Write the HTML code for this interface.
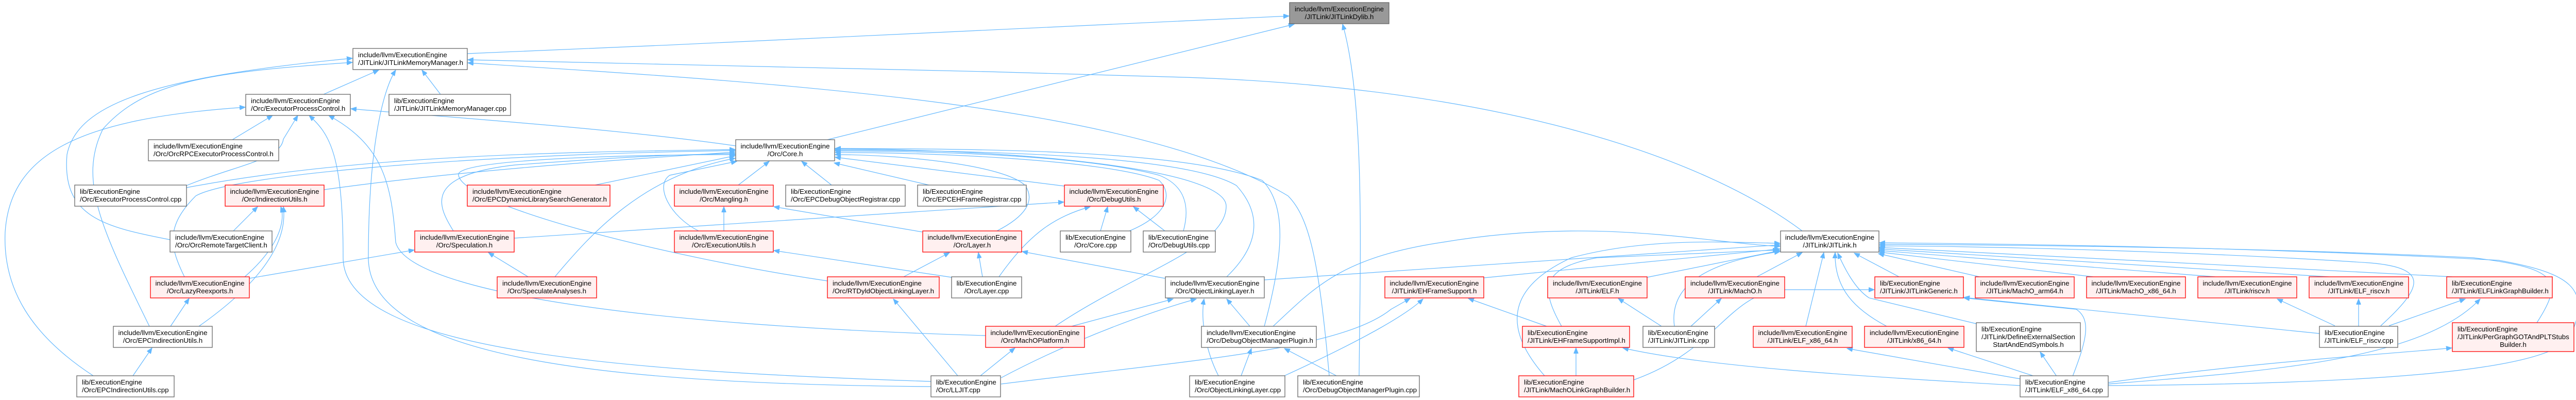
<!DOCTYPE html>
<html><head><meta charset="utf-8"><style>
html,body{margin:0;padding:0;background:#fff;}
svg{display:block;}
text{font-family:"Liberation Sans",Arial,sans-serif;font-size:13.3px;fill:#000;}
.n{fill:#fff;stroke:#666;stroke-width:1.3;}
.r{fill:#fff0f0;stroke:#f00;stroke-width:1.3;}
.g{fill:#999;stroke:#666;stroke-width:1.3;}
.e{fill:none;stroke:#63b8ff;stroke-width:1.2;marker-end:url(#a);}
.c{text-anchor:middle;}
</style></head><body>
<svg width="5040" height="776" viewBox="0 0 5040 776" xmlns="http://www.w3.org/2000/svg">
<defs><marker id="a" markerUnits="userSpaceOnUse" markerWidth="12" markerHeight="9" refX="11" refY="4.5" orient="auto"><path d="M0,0 L11,4.5 L0,9 z" fill="#63b8ff" stroke="#63b8ff"/></marker></defs>
<g>
<path class="e" d="M907,104 C1500,80 2200,45 2502,31"/>
<path class="e" d="M1606,271 L2512,47"/>
<path class="e" d="M2638,729 C2640,500 2650,200 2606,47"/>
<path class="e" d="M628,183 L735,136"/>
<path class="e" d="M855,183 L819,136"/>
<path class="e" d="M3498,448 C3300,300 2900,170 2300,150 C1800,135 1200,120 908,116"/>
<path class="e" d="M2580,729 C2560,500 2540,420 2500,380 C2200,200 1500,160 908,122"/>
<path class="e" d="M330,465 C200,440 120,420 130,300 C150,200 300,150 684,113"/>
<path class="e" d="M290,633 C200,450 150,350 200,250 C280,160 400,140 684,121"/>
<path class="e" d="M1807,750 C1200,745 715,700 715,500 C715,300 740,180 768,136"/>
<path class="e" d="M1807,740 C1200,720 666,680 666,500 C666,300 640,260 600,224"/>
<path class="e" d="M1913,651 C1200,630 790,560 768,470 C760,350 740,280 638,224"/>
<path class="e" d="M181,729 C60,650 5,560 10,450 C20,300 150,230 476,208"/>
<path class="e" d="M362,360 C460,320 545,310 550,270 L578,224"/>
<path class="e" d="M451,271 L529,224"/>
<path class="e" d="M1428,283 C1200,250 900,230 681,211"/>
<path class="e" d="M362,364 C700,300 1100,295 1427,290"/>
<path class="e" d="M629,368 C900,330 1200,310 1427,295"/>
<path class="e" d="M1155,359 L1427,302"/>
<path class="e" d="M880,448 C850,400 820,340 1000,320 C1200,305 1300,300 1427,298"/>
<path class="e" d="M1606,545 C1300,500 900,400 890,340 C880,310 1200,300 1427,300"/>
<path class="e" d="M1077,537 C1150,450 1250,340 1427,307"/>
<path class="e" d="M358,537 C330,480 320,440 380,380 C450,340 900,300 1427,292"/>
<path class="e" d="M1356,448 C1300,420 1270,360 1300,340 L1430,313"/>
<path class="e" d="M1433,359 L1493,313"/>
<path class="e" d="M1614,359 L1556,313"/>
<path class="e" d="M1803,359 L1619,316"/>
<path class="e" d="M2066,361 L1621,305"/>
<path class="e" d="M1935,448 C1990,420 2010,390 1990,360 C1950,320 1750,300 1621,300"/>
<path class="e" d="M2192,448 C2260,420 2280,380 2250,350 C2150,310 1800,295 1621,296"/>
<path class="e" d="M2297,448 C2310,400 2300,360 2250,340 C2100,300 1800,293 1621,293"/>
<path class="e" d="M2381,537 C2440,480 2454,420 2400,360 C2300,300 1900,292 1621,291"/>
<path class="e" d="M2048,633 C2200,530 2380,480 2380,400 C2380,330 2000,290 1621,289"/>
<path class="e" d="M2454,633 C2490,500 2500,400 2450,350 C2300,290 1900,289 1621,288"/>
<path class="e" d="M1405,448 L1405,401"/>
<path class="e" d="M1790,450 L1502,401"/>
<path class="e" d="M1847,538 L1502,486"/>
<path class="e" d="M1907,537 L1899,490"/>
<path class="e" d="M1939,537 C2000,450 2050,420 2116,401"/>
<path class="e" d="M1754,537 L1843,490"/>
<path class="e" d="M2261,540 L1984,488"/>
<path class="e" d="M998,462 L2065,392"/>
<path class="e" d="M2136,448 L2150,401"/>
<path class="e" d="M2261,448 L2200,401"/>
<path class="e" d="M475,537 C540,480 555,430 545,401"/>
<path class="e" d="M386,633 C490,560 560,480 550,401"/>
<path class="e" d="M453,448 L500,401"/>
<path class="e" d="M331,633 L367,579"/>
<path class="e" d="M258,729 L295,675"/>
<path class="e" d="M484,540 L804,485"/>
<path class="e" d="M1025,537 L948,490"/>
<path class="e" d="M2080,633 L2277,580"/>
<path class="e" d="M1859,729 L1734,580"/>
<path class="e" d="M1903,729 L1970,675"/>
<path class="e" d="M1943,733 C2100,650 2250,600 2322,580"/>
<path class="e" d="M1943,745 C2300,700 2600,680 2700,600 L2737,579"/>
<path class="e" d="M2426,633 L2381,580"/>
<path class="e" d="M2365,729 C2340,680 2330,620 2337,580"/>
<path class="e" d="M2409,729 L2429,676"/>
<path class="e" d="M2493,729 C2600,680 2720,620 2762,580"/>
<path class="e" d="M2594,729 L2493,676"/>
<path class="e" d="M2454,543 L3455,475"/>
<path class="e" d="M2471,633 C2550,560 2600,500 2800,470 C3100,420 3300,470 3455,478"/>
<path class="e" d="M2880,539 L3455,483"/>
<path class="e" d="M3197,538 L3455,486"/>
<path class="e" d="M3410,537 L3498,490"/>
<path class="e" d="M3031,633 C2990,560 2990,520 3100,500 L3452,485"/>
<path class="e" d="M3002,633 L2850,579"/>
<path class="e" d="M3250,633 C3240,560 3300,510 3455,488"/>
<path class="e" d="M3225,633 L3141,579"/>
<path class="e" d="M3282,633 L3341,579"/>
<path class="e" d="M2998,729 C2920,640 2920,560 3050,500 C3200,460 3350,470 3455,472"/>
<path class="e" d="M3059,729 L3059,675"/>
<path class="e" d="M3171,737 C3330,680 3350,580 3450,562 L3638,562"/>
<path class="e" d="M3505,633 L3540,490"/>
<path class="e" d="M3662,633 C3600,600 3560,560 3562,490"/>
<path class="e" d="M3686,537 L3599,491"/>
<path class="e" d="M3836,628 L3628,578 C3600,560 3580,520 3567,491"/>
<path class="e" d="M3842,537 L3646,492"/>
<path class="e" d="M4063,537 L3647,489"/>
<path class="e" d="M4300,537 L3647,486"/>
<path class="e" d="M4520,537 L3647,483"/>
<path class="e" d="M4760,537 L3647,480"/>
<path class="e" d="M4621,632 C4700,560 4720,520 4600,510 C4300,490 3900,478 3648,477"/>
<path class="e" d="M4924,626 C4980,540 4960,520 4800,500 C4400,480 3900,475 3648,474"/>
<path class="e" d="M4092,748 C4600,745 4960,720 4990,650 C5030,560 4990,530 4850,505 C4400,480 3900,473 3648,471"/>
<path class="e" d="M4532,632 L4420,580"/>
<path class="e" d="M4578,633 L4578,580"/>
<path class="e" d="M4637,632 L4785,580"/>
<path class="e" d="M4502,647 L3812,577"/>
<path class="e" d="M4023,730 C4050,660 4060,620 4030,600 L3812,578"/>
<path class="e" d="M3992,730 L3960,683"/>
<path class="e" d="M3946,729 L3781,675"/>
<path class="e" d="M3921,735 L3585,676"/>
<path class="e" d="M3921,748 C3600,730 3300,710 3150,675"/>
<path class="e" d="M4092,742 C4400,700 4600,690 4759,675"/>
<path class="e" d="M4092,745 C4400,720 4700,700 4814,580"/>
</g>
<g>
<rect class="g" x="2503" y="5" width="193" height="41"/><text class="c" x="2599.5" y="22">include/llvm/ExecutionEngine</text><text class="c" x="2599.5" y="37">/JITLink/JITLinkDylib.h</text>
<rect class="n" x="685" y="94" width="222" height="41"/><text x="695" y="111">include/llvm/ExecutionEngine</text><text x="695" y="126">/JITLink/JITLinkMemoryManager.h</text>
<rect class="n" x="477" y="183" width="203" height="41"/><text x="487" y="200">include/llvm/ExecutionEngine</text><text x="487" y="215">/Orc/ExecutorProcessControl.h</text>
<rect class="n" x="755" y="183" width="236" height="41"/><text x="765" y="200">lib/ExecutionEngine</text><text x="765" y="215">/JITLink/JITLinkMemoryManager.cpp</text>
<rect class="n" x="288" y="271" width="253" height="41"/><text x="298" y="288">include/llvm/ExecutionEngine</text><text x="298" y="303">/Orc/OrcRPCExecutorProcessControl.h</text>
<rect class="n" x="1428" y="271" width="192" height="41"/><text class="c" x="1524" y="288">include/llvm/ExecutionEngine</text><text class="c" x="1524" y="303">/Orc/Core.h</text>
<rect class="n" x="145" y="359" width="217" height="41"/><text x="155" y="376">lib/ExecutionEngine</text><text x="155" y="391">/Orc/ExecutorProcessControl.cpp</text>
<rect class="r" x="437" y="359" width="192" height="41"/><text class="c" x="533" y="376">include/llvm/ExecutionEngine</text><text class="c" x="533" y="391">/Orc/IndirectionUtils.h</text>
<rect class="r" x="907" y="359" width="277" height="41"/><text x="917" y="376">include/llvm/ExecutionEngine</text><text x="917" y="391">/Orc/EPCDynamicLibrarySearchGenerator.h</text>
<rect class="r" x="1309" y="359" width="192" height="41"/><text class="c" x="1405" y="376">include/llvm/ExecutionEngine</text><text class="c" x="1405" y="391">/Orc/Mangling.h</text>
<rect class="n" x="1525" y="359" width="232" height="41"/><text x="1535" y="376">lib/ExecutionEngine</text><text x="1535" y="391">/Orc/EPCDebugObjectRegistrar.cpp</text>
<rect class="n" x="1781" y="359" width="211" height="41"/><text x="1791" y="376">lib/ExecutionEngine</text><text x="1791" y="391">/Orc/EPCEHFrameRegistrar.cpp</text>
<rect class="r" x="2066" y="359" width="192" height="41"/><text class="c" x="2162" y="376">include/llvm/ExecutionEngine</text><text class="c" x="2162" y="391">/Orc/DebugUtils.h</text>
<rect class="n" x="330" y="448" width="198" height="41"/><text x="340" y="465">include/llvm/ExecutionEngine</text><text x="340" y="480">/Orc/OrcRemoteTargetClient.h</text>
<rect class="r" x="805" y="448" width="193" height="41"/><text class="c" x="901.5" y="465">include/llvm/ExecutionEngine</text><text class="c" x="901.5" y="480">/Orc/Speculation.h</text>
<rect class="r" x="1309" y="448" width="192" height="41"/><text class="c" x="1405" y="465">include/llvm/ExecutionEngine</text><text class="c" x="1405" y="480">/Orc/ExecutionUtils.h</text>
<rect class="r" x="1791" y="448" width="192" height="41"/><text class="c" x="1887" y="465">include/llvm/ExecutionEngine</text><text class="c" x="1887" y="480">/Orc/Layer.h</text>
<rect class="n" x="2058" y="448" width="137" height="41"/><text class="c" x="2126.5" y="465">lib/ExecutionEngine</text><text class="c" x="2126.5" y="480">/Orc/Core.cpp</text>
<rect class="n" x="2219" y="448" width="140" height="41"/><text x="2229" y="465">lib/ExecutionEngine</text><text x="2229" y="480">/Orc/DebugUtils.cpp</text>
<rect class="n" x="3456" y="448" width="191" height="41"/><text class="c" x="3551.5" y="465">include/llvm/ExecutionEngine</text><text class="c" x="3551.5" y="480">/JITLink/JITLink.h</text>
<rect class="r" x="292" y="537" width="192" height="41"/><text class="c" x="388" y="554">include/llvm/ExecutionEngine</text><text class="c" x="388" y="569">/Orc/LazyReexports.h</text>
<rect class="r" x="965" y="537" width="193" height="41"/><text class="c" x="1061.5" y="554">include/llvm/ExecutionEngine</text><text class="c" x="1061.5" y="569">/Orc/SpeculateAnalyses.h</text>
<rect class="r" x="1606" y="537" width="217" height="41"/><text x="1616" y="554">include/llvm/ExecutionEngine</text><text x="1616" y="569">/Orc/RTDyldObjectLinkingLayer.h</text>
<rect class="n" x="1847" y="537" width="136" height="41"/><text class="c" x="1915" y="554">lib/ExecutionEngine</text><text class="c" x="1915" y="569">/Orc/Layer.cpp</text>
<rect class="n" x="2262" y="537" width="192" height="41"/><text class="c" x="2358" y="554">include/llvm/ExecutionEngine</text><text class="c" x="2358" y="569">/Orc/ObjectLinkingLayer.h</text>
<rect class="r" x="2688" y="537" width="192" height="41"/><text class="c" x="2784" y="554">include/llvm/ExecutionEngine</text><text class="c" x="2784" y="569">/JITLink/EHFrameSupport.h</text>
<rect class="r" x="3004" y="537" width="193" height="41"/><text class="c" x="3100.5" y="554">include/llvm/ExecutionEngine</text><text class="c" x="3100.5" y="569">/JITLink/ELF.h</text>
<rect class="r" x="3271" y="537" width="193" height="41"/><text class="c" x="3367.5" y="554">include/llvm/ExecutionEngine</text><text class="c" x="3367.5" y="569">/JITLink/MachO.h</text>
<rect class="r" x="3639" y="537" width="172" height="41"/><text x="3649" y="554">lib/ExecutionEngine</text><text x="3649" y="569">/JITLink/JITLinkGeneric.h</text>
<rect class="r" x="3834" y="537" width="192" height="41"/><text class="c" x="3930" y="554">include/llvm/ExecutionEngine</text><text class="c" x="3930" y="569">/JITLink/MachO_arm64.h</text>
<rect class="r" x="4050" y="537" width="192" height="41"/><text class="c" x="4146" y="554">include/llvm/ExecutionEngine</text><text class="c" x="4146" y="569">/JITLink/MachO_x86_64.h</text>
<rect class="r" x="4266" y="537" width="192" height="41"/><text class="c" x="4362" y="554">include/llvm/ExecutionEngine</text><text class="c" x="4362" y="569">/JITLink/riscv.h</text>
<rect class="r" x="4482" y="537" width="193" height="41"/><text class="c" x="4578.5" y="554">include/llvm/ExecutionEngine</text><text class="c" x="4578.5" y="569">/JITLink/ELF_riscv.h</text>
<rect class="r" x="4749" y="537" width="205" height="41"/><text x="4759" y="554">lib/ExecutionEngine</text><text x="4759" y="569">/JITLink/ELFLinkGraphBuilder.h</text>
<rect class="n" x="220" y="633" width="192" height="41"/><text class="c" x="316" y="650">include/llvm/ExecutionEngine</text><text class="c" x="316" y="665">/Orc/EPCIndirectionUtils.h</text>
<rect class="r" x="1913" y="633" width="192" height="41"/><text class="c" x="2009" y="650">include/llvm/ExecutionEngine</text><text class="c" x="2009" y="665">/Orc/MachOPlatform.h</text>
<rect class="n" x="2332" y="633" width="223" height="41"/><text x="2342" y="650">include/llvm/ExecutionEngine</text><text x="2342" y="665">/Orc/DebugObjectManagerPlugin.h</text>
<rect class="r" x="2955" y="633" width="208" height="41"/><text x="2965" y="650">lib/ExecutionEngine</text><text x="2965" y="665">/JITLink/EHFrameSupportImpl.h</text>
<rect class="n" x="3189" y="633" width="139" height="41"/><text x="3199" y="650">lib/ExecutionEngine</text><text x="3199" y="665">/JITLink/JITLink.cpp</text>
<rect class="r" x="3403" y="633" width="192" height="41"/><text class="c" x="3499" y="650">include/llvm/ExecutionEngine</text><text class="c" x="3499" y="665">/JITLink/ELF_x86_64.h</text>
<rect class="r" x="3619" y="633" width="193" height="41"/><text class="c" x="3715.5" y="650">include/llvm/ExecutionEngine</text><text class="c" x="3715.5" y="665">/JITLink/x86_64.h</text>
<rect class="n" x="3836" y="626" width="202" height="56"/><text x="3846" y="643">lib/ExecutionEngine</text><text x="3846" y="658">/JITLink/DefineExternalSection</text><text class="c" x="3937" y="673">StartAndEndSymbols.h</text>
<rect class="n" x="4502" y="633" width="152" height="41"/><text x="4512" y="650">lib/ExecutionEngine</text><text x="4512" y="665">/JITLink/ELF_riscv.cpp</text>
<rect class="r" x="4760" y="626" width="236" height="56"/><text x="4770" y="643">lib/ExecutionEngine</text><text x="4770" y="658">/JITLink/PerGraphGOTAndPLTStubs</text><text class="c" x="4878" y="673">Builder.h</text>
<rect class="n" x="149" y="729" width="189" height="41"/><text x="159" y="746">lib/ExecutionEngine</text><text x="159" y="761">/Orc/EPCIndirectionUtils.cpp</text>
<rect class="n" x="1807" y="729" width="135" height="41"/><text x="1817" y="746">lib/ExecutionEngine</text><text x="1817" y="761">/Orc/LLJIT.cpp</text>
<rect class="n" x="2309" y="729" width="185" height="41"/><text x="2319" y="746">lib/ExecutionEngine</text><text x="2319" y="761">/Orc/ObjectLinkingLayer.cpp</text>
<rect class="n" x="2519" y="729" width="236" height="41"/><text x="2529" y="746">lib/ExecutionEngine</text><text x="2529" y="761">/Orc/DebugObjectManagerPlugin.cpp</text>
<rect class="r" x="2948" y="729" width="223" height="41"/><text x="2958" y="746">lib/ExecutionEngine</text><text x="2958" y="761">/JITLink/MachOLinkGraphBuilder.h</text>
<rect class="n" x="3921" y="729" width="171" height="41"/><text x="3931" y="746">lib/ExecutionEngine</text><text x="3931" y="761">/JITLink/ELF_x86_64.cpp</text>
</g>
</svg>
</body></html>
